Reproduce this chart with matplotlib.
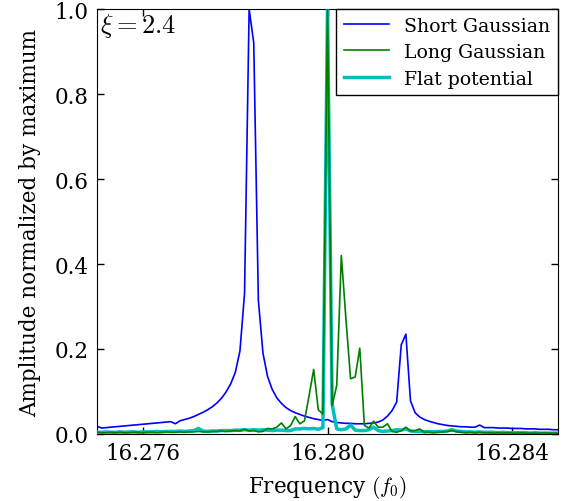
import numpy as np
import matplotlib
matplotlib.use("Agg")
import matplotlib.pyplot as plt

# frequency grid (units of f0), 101 samples
freq = np.linspace(16.2750, 16.2850, 101)

short_gauss = [
    0.018, 0.014, 0.015, 0.016, 0.017, 0.018, 0.019, 0.020, 0.021, 0.022,
    0.023, 0.024, 0.025, 0.026, 0.027, 0.028, 0.029, 0.024, 0.031, 0.034,
    0.037, 0.041, 0.046, 0.051, 0.057, 0.064, 0.073, 0.084, 0.099, 0.118,
    0.145, 0.195, 0.330, 1.000, 0.920, 0.315, 0.190, 0.135, 0.105, 0.085,
    0.072, 0.062, 0.055, 0.050, 0.046, 0.042, 0.039, 0.036, 0.034, 0.032,
    0.034, 0.029, 0.027, 0.026, 0.025, 0.025, 0.024, 0.024, 0.024, 0.025,
    0.026, 0.028, 0.033, 0.042, 0.055, 0.075, 0.210, 0.235, 0.078, 0.050,
    0.040, 0.034, 0.030, 0.027, 0.024, 0.022, 0.020, 0.019, 0.018, 0.017,
    0.017, 0.016, 0.016, 0.021, 0.015, 0.015, 0.015, 0.014, 0.014, 0.014,
    0.013, 0.013, 0.013, 0.012, 0.012, 0.012, 0.011, 0.011, 0.011, 0.010,
    0.010,
]

long_gauss = [
    0.004, 0.003, 0.003, 0.004, 0.003, 0.004, 0.003, 0.003, 0.004, 0.004,
    0.003, 0.004, 0.004, 0.003, 0.004, 0.005, 0.004, 0.004, 0.005, 0.004,
    0.005, 0.005, 0.006, 0.005, 0.005, 0.006, 0.006, 0.007, 0.006, 0.007,
    0.008, 0.007, 0.011, 0.007, 0.008, 0.005, 0.006, 0.013, 0.012, 0.016,
    0.026, 0.012, 0.020, 0.041, 0.024, 0.031, 0.090, 0.152, 0.057, 0.047,
    1.000, 0.067, 0.114, 0.420, 0.270, 0.130, 0.134, 0.202, 0.020, 0.014,
    0.030, 0.016, 0.016, 0.024, 0.006, 0.004, 0.008, 0.016, 0.007, 0.008,
    0.012, 0.004, 0.004, 0.003, 0.004, 0.005, 0.006, 0.008, 0.005, 0.004,
    0.003, 0.004, 0.003, 0.004, 0.003, 0.003, 0.002, 0.003, 0.002, 0.003,
    0.002, 0.002, 0.003, 0.002, 0.002, 0.002, 0.002, 0.003, 0.002, 0.002,
    0.002,
]

flat_pot = [
    0.004, 0.004, 0.005, 0.004, 0.004, 0.005, 0.004, 0.005, 0.005, 0.004,
    0.005, 0.005, 0.005, 0.006, 0.005, 0.006, 0.006, 0.006, 0.007, 0.006,
    0.007, 0.008, 0.013, 0.007, 0.006, 0.007, 0.007, 0.008, 0.008, 0.008,
    0.009, 0.009, 0.010, 0.009, 0.010, 0.009, 0.010, 0.009, 0.008, 0.009,
    0.009, 0.008, 0.008, 0.012, 0.012, 0.013, 0.012, 0.013, 0.011, 0.015,
    1.000, 0.070, 0.012, 0.010, 0.012, 0.021, 0.009, 0.008, 0.008, 0.010,
    0.016, 0.008, 0.006, 0.007, 0.008, 0.010, 0.009, 0.012, 0.007, 0.006,
    0.006, 0.005, 0.006, 0.005, 0.006, 0.006, 0.007, 0.010, 0.007, 0.006,
    0.005, 0.005, 0.004, 0.005, 0.004, 0.004, 0.004, 0.003, 0.004, 0.003,
    0.003, 0.003, 0.003, 0.003, 0.002, 0.003, 0.002, 0.002, 0.002, 0.002,
    0.002,
]

xticks = [16.276, 16.280, 16.284]
yticks = [0.0, 0.2, 0.4, 0.6, 0.8, 1.0]

plt.rcParams['font.family'] = ['DejaVu Serif']
plt.rcParams['mathtext.fontset'] = 'cm'
plt.rcParams['font.size'] = 15.5
plt.rcParams['xtick.direction'] = 'in'
plt.rcParams['ytick.direction'] = 'in'
plt.rcParams['xtick.top'] = True
plt.rcParams['ytick.right'] = True

fig = plt.figure(figsize=(5.68, 5.02), dpi=100)
ax = fig.add_axes([0.1708, 0.1335, 0.8116, 0.8465])

ax.plot(freq, short_gauss, color='#0000ff', lw=1.2, label='Short Gaussian', zorder=2)
ax.plot(freq, long_gauss, color='#008000', lw=1.2, label='Long Gaussian', zorder=4)
ax.plot(freq, flat_pot, color='#00bfbf', lw=2.5, label='Flat potential', zorder=3)

ax.set_xlim(16.275, 16.285)
ax.set_ylim(0, 1.0)
ax.set_xticks(xticks)
ax.set_xticklabels(['%.3f' % t for t in xticks])
ax.set_yticks(yticks)
ax.set_yticklabels(['%.1f' % t for t in yticks])
ax.tick_params(length=5, width=1, pad=6, labelsize=15.5)

ax.set_xlabel('Frequency $(f_0)$', fontsize=15.5, labelpad=6)
ax.set_ylabel('Amplitude normalized by maximum', fontsize=15.5, labelpad=10)

ax.text(0.006, 0.995, r'$\xi = 2.4$', transform=ax.transAxes, ha='left', va='top', fontsize=19)

leg = ax.legend(loc='upper right', borderaxespad=0, fancybox=False, framealpha=1,
                edgecolor='black', handlelength=2.4, fontsize=13.6, labelspacing=0.45)
leg.get_frame().set_linewidth(1.0)

fig.savefig('out.png', dpi=100, facecolor='white')
